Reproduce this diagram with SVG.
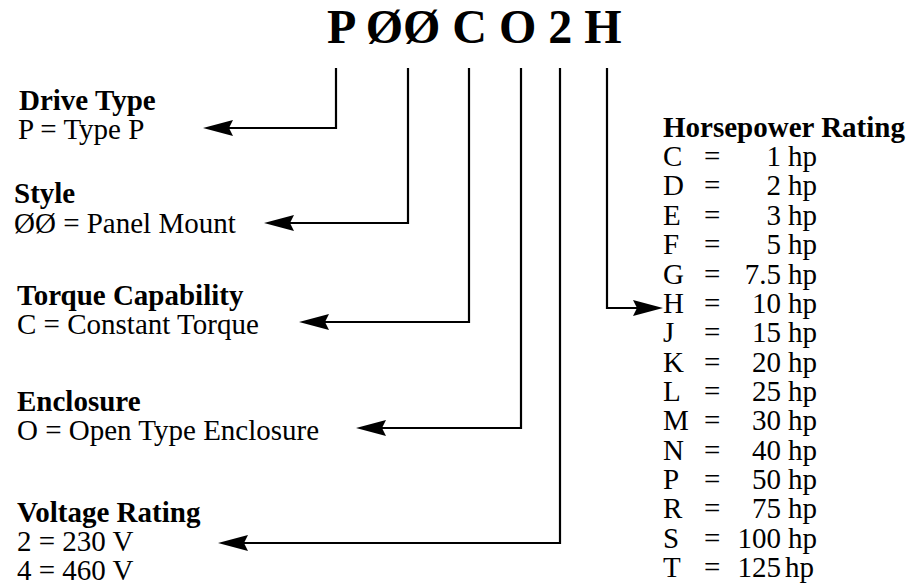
<svg xmlns="http://www.w3.org/2000/svg" width="922" height="585" viewBox="0 0 922 585">
<defs>
<style>
.t{font-family:"Liberation Serif","Times New Roman",serif;font-size:29px;fill:#000}
.b{font-weight:bold}
.title{font-family:"Liberation Serif","Times New Roman",serif;font-size:48px;font-weight:bold;fill:#000}
.c{fill:none;stroke:#000;stroke-width:2.2;marker-end:url(#ah)}
</style>
<marker id="ah" markerUnits="userSpaceOnUse" viewBox="0 0 30 16" refX="24" refY="8" markerWidth="30" markerHeight="16" orient="auto">
<path d="M0,0 L30,8 L0,16 L4,8 Z" fill="#000"/>
</marker>
</defs>
<rect width="922" height="585" fill="#fff"/>
<g id="title"><text class="title" x="327" y="43">P ØØ C O 2 H</text></g>
<g id="connectors">
<path class="c" d="M336,68 V128 H209"/>
<path class="c" d="M408,68 V223 H270"/>
<path class="c" d="M469,68 V322 H305"/>
<path class="c" d="M521,68 V428 H362"/>
<path class="c" d="M560,68 V543 H224"/>
<path class="c" d="M607,68 V308 H657"/>
</g>
<g id="drive-type">
<text class="t b" x="19" y="110">Drive Type</text>
<text class="t" x="18" y="139">P = Type P</text>
</g>
<g id="style">
<text class="t b" x="14" y="203">Style</text>
<text class="t" x="14" y="233">ØØ = Panel Mount</text>
</g>
<g id="torque">
<text class="t b" x="17" y="305">Torque Capability</text>
<text class="t" x="17" y="334">C = Constant Torque</text>
</g>
<g id="enclosure">
<text class="t b" x="17" y="411">Enclosure</text>
<text class="t" x="17" y="440">O = Open Type Enclosure</text>
</g>
<g id="voltage">
<text class="t b" x="17" y="522">Voltage Rating</text>
<text class="t" x="17" y="551">2 = 230 V</text>
<text class="t" x="17" y="580">4 = 460 V</text>
</g>
<g id="horsepower">
<text class="t b" x="663" y="137">Horsepower Rating</text>
<g class="t">
<text x="663" y="166">C</text><text x="704" y="166">=</text><text x="781" y="166" text-anchor="end">1</text><text x="788" y="166">hp</text>
<text x="663" y="195">D</text><text x="704" y="195">=</text><text x="781" y="195" text-anchor="end">2</text><text x="788" y="195">hp</text>
<text x="663" y="225">E</text><text x="704" y="225">=</text><text x="781" y="225" text-anchor="end">3</text><text x="788" y="225">hp</text>
<text x="663" y="254">F</text><text x="704" y="254">=</text><text x="781" y="254" text-anchor="end">5</text><text x="788" y="254">hp</text>
<text x="663" y="284">G</text><text x="704" y="284">=</text><text x="781" y="284" text-anchor="end">7.5</text><text x="788" y="284">hp</text>
<text x="663" y="313">H</text><text x="704" y="313">=</text><text x="781" y="313" text-anchor="end">10</text><text x="788" y="313">hp</text>
<text x="663" y="342">J</text><text x="704" y="342">=</text><text x="781" y="342" text-anchor="end">15</text><text x="788" y="342">hp</text>
<text x="663" y="372">K</text><text x="704" y="372">=</text><text x="781" y="372" text-anchor="end">20</text><text x="788" y="372">hp</text>
<text x="663" y="401">L</text><text x="704" y="401">=</text><text x="781" y="401" text-anchor="end">25</text><text x="788" y="401">hp</text>
<text x="663" y="430">M</text><text x="704" y="430">=</text><text x="781" y="430" text-anchor="end">30</text><text x="788" y="430">hp</text>
<text x="663" y="460">N</text><text x="704" y="460">=</text><text x="781" y="460" text-anchor="end">40</text><text x="788" y="460">hp</text>
<text x="663" y="489">P</text><text x="704" y="489">=</text><text x="781" y="489" text-anchor="end">50</text><text x="788" y="489">hp</text>
<text x="663" y="518">R</text><text x="704" y="518">=</text><text x="781" y="518" text-anchor="end">75</text><text x="788" y="518">hp</text>
<text x="663" y="548">S</text><text x="704" y="548">=</text><text x="781" y="548" text-anchor="end">100</text><text x="788" y="548">hp</text>
<text x="663" y="577">T</text><text x="704" y="577">=</text><text x="781" y="577" text-anchor="end">125</text><text x="785" y="577">hp</text>
</g>
</g>
</svg>
